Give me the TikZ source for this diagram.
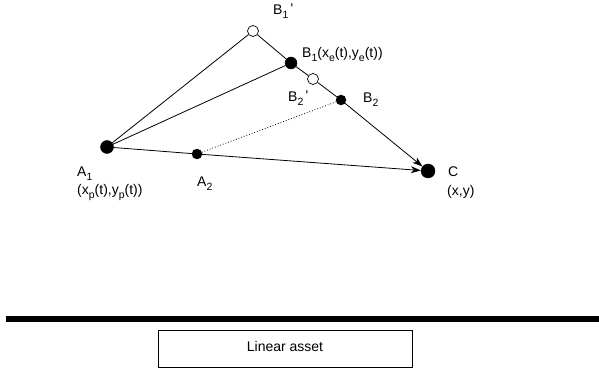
\documentclass[tikz,border=0pt]{standalone}
\usepackage{fontspec}
\setmainfont{Liberation Sans}
\usetikzlibrary{arrows.meta}
% lowered index, as in the drawing
\newcommand{\sbx}[1]{\raisebox{-3.5pt}{\fontsize{10.5}{10.5}\selectfont #1}}
\newcommand{\prm}{\,\raisebox{1pt}{\textquotesingle}}
\begin{document}
\begin{tikzpicture}[x=1pt, y=-1pt,
    dot/.style={circle, fill=black, draw=black, inner sep=0pt, minimum size=#1},
    hollow/.style={circle, fill=white, draw=black, line width=0.7pt, inner sep=0pt, minimum size=#1},
    lbl/.style={inner sep=0pt, anchor=base west, font=\fontsize{14}{16}\selectfont},
    edge/.style={line width=0.8pt},
    tip/.style={-{Stealth[length=10pt, width=7pt, inset=3pt]}}]
    \useasboundingbox (0,0) rectangle (599,371);

    % Points
    \node[dot=13pt] (a1) at (107,147) {};
    \node[dot=10pt] (a2) at (197,154) {};
    \node[hollow=11pt] (b1p) at (253,31) {};
    \node[dot=12pt] (b1) at (291,63) {};
    \node[hollow=11pt] (b2p) at (313,79) {};
    \node[dot=10pt] (b2) at (341,100) {};
    \node[dot=14pt] (c) at (428,171) {};

    % Lines
    \draw[edge] (a1) -- (b1p);
    \draw[edge] (a1) -- (b1);
    \draw[edge] (b1p) -- (b1) -- (b2p) -- (b2);
    \draw[edge, tip] (b2) -- (c);
    \draw[edge] (a1) -- (a2);
    \draw[edge, tip] (a2) -- (c);
    \draw[line width=0.8pt, dotted] (a2) -- (b2);

    % Labels
    \node[lbl] (l-b1p) at (273,15) {B\sbx{1}\prm};
    \node[lbl] (l-b1) at (302,58) {B\sbx{1}(x\sbx{e}(t),y\sbx{e}(t))};
    \node[lbl] (l-b2p) at (288,102) {B\sbx{2}\prm};
    \node[lbl] (l-b2) at (363,103) {B\sbx{2}};
    \node[lbl] (l-a1) at (77,177) {A\sbx{1}};
    \node[lbl] (l-a1xy) at (77,195) {(x\sbx{p}(t),y\sbx{p}(t))};
    \node[lbl] (l-a2) at (197,187) {A\sbx{2}};
    \node[lbl] (l-c) at (448,177) {C};
    \node[lbl] (l-cxy) at (447,196) {(x,y)};

    % Asset
    \coordinate (track-w) at (6,319);
    \coordinate (track-e) at (599,319);
    \draw[line width=6pt] (track-w) -- (track-e);
    \node[draw, line width=0.8pt, minimum width=254pt, minimum height=37pt,
        anchor=north west] (asset) at (158,330) {};
    \node[lbl, anchor=base] (asset-text) at (285,351) {Linear asset};
\end{tikzpicture}
\end{document}
